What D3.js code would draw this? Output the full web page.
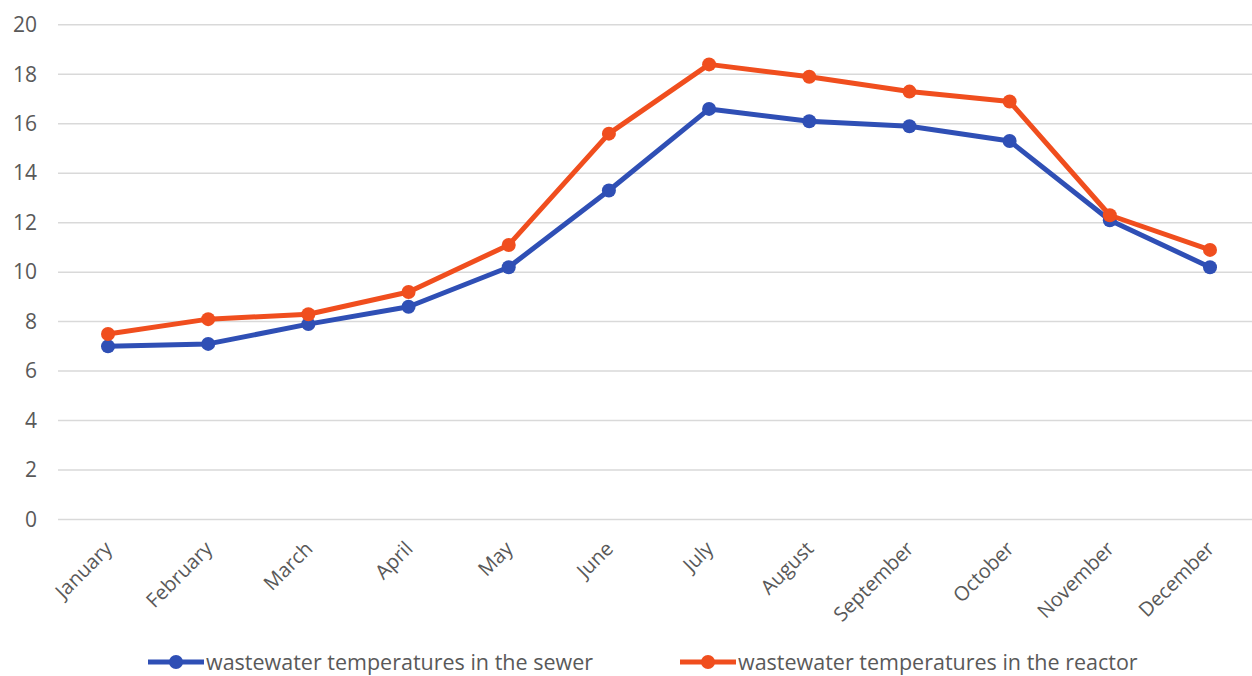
<!DOCTYPE html>
<html><head><meta charset="utf-8">
<script src="https://cdn.jsdelivr.net/npm/d3@7"></script>
<style>html,body{margin:0;padding:0;background:#fff;}svg{display:block;}</style>
</head><body>
<svg id="c" width="1252" height="676"></svg>
<script>
const months = ["January","February","March","April","May","June","July","August","September","October","November","December"];
const sewer = [7.0,7.1,7.9,8.6,10.2,13.3,16.6,16.1,15.9,15.3,12.1,10.2];
const reactor = [7.5,8.1,8.3,9.2,11.1,15.6,18.4,17.9,17.3,16.9,12.3,10.9];
const yTicks = [0,2,4,6,8,10,12,14,16,18,20];
const seriesNames = ["wastewater temperatures in the sewer","wastewater temperatures in the reactor"];

const colors = ["#2F4FB5","#F04E1E"];
const svg = d3.select("#c");
const font = "'Open Sans', sans-serif";
const x = d3.scalePoint().domain(months).range([108,1210]);
const y = d3.scaleLinear().domain([0,20]).range([519.5,24.8]);

// grid
svg.append("g").selectAll("line").data(yTicks).join("line")
  .attr("x1",58).attr("x2",1252)
  .attr("y1",d=>y(d)).attr("y2",d=>y(d))
  .attr("stroke","#d9d9d9").attr("stroke-width",1.5);

// y axis labels
const yAxis = d3.axisLeft(y).tickValues(yTicks).tickSize(0).tickPadding(0);
const gy = svg.append("g").attr("transform","translate(37,0)").call(yAxis);
gy.select(".domain").remove();
gy.selectAll("text").attr("font-family",font).attr("font-size",21).attr("fill","#595959");

// x axis labels
const xAxis = d3.axisBottom(x).tickSize(0).tickPadding(0);
const gx = svg.append("g").attr("transform","translate(0,530)").call(xAxis);
gx.select(".domain").remove();
gx.selectAll("text")
  .attr("font-family",font).attr("font-size",20).attr("fill","#595959")
  .attr("text-anchor","end").attr("dy","0.35em")
  .attr("transform","translate(0,15) rotate(-45)");

const data = [sewer, reactor];
const line = d3.line().x((d,i)=>x(months[i])).y(d=>y(d));
data.forEach((s,k)=>{
  svg.append("path").datum(s).attr("d",line)
    .attr("fill","none").attr("stroke",colors[k]).attr("stroke-width",5).attr("stroke-linejoin","round");
  svg.append("g").selectAll("circle").data(s).join("circle")
    .attr("cx",(d,i)=>x(months[i])).attr("cy",d=>y(d)).attr("r",7).attr("fill",colors[k]);
});

// legend
const legX = [148, 680];
const lg = svg.append("g");
seriesNames.forEach((n,k)=>{
  const g = lg.append("g").attr("transform",`translate(${legX[k]},662)`);
  g.append("line").attr("x1",0).attr("x2",56).attr("y1",0).attr("y2",0).attr("stroke",colors[k]).attr("stroke-width",5);
  g.append("circle").attr("cx",28).attr("cy",0).attr("r",7).attr("fill",colors[k]);
  g.append("text").attr("x",58).attr("y",0).attr("dy","0.35em")
    .attr("font-family",font).attr("font-size",21.5).attr("fill","#595959").text(n);
});
</script>
</body></html>
